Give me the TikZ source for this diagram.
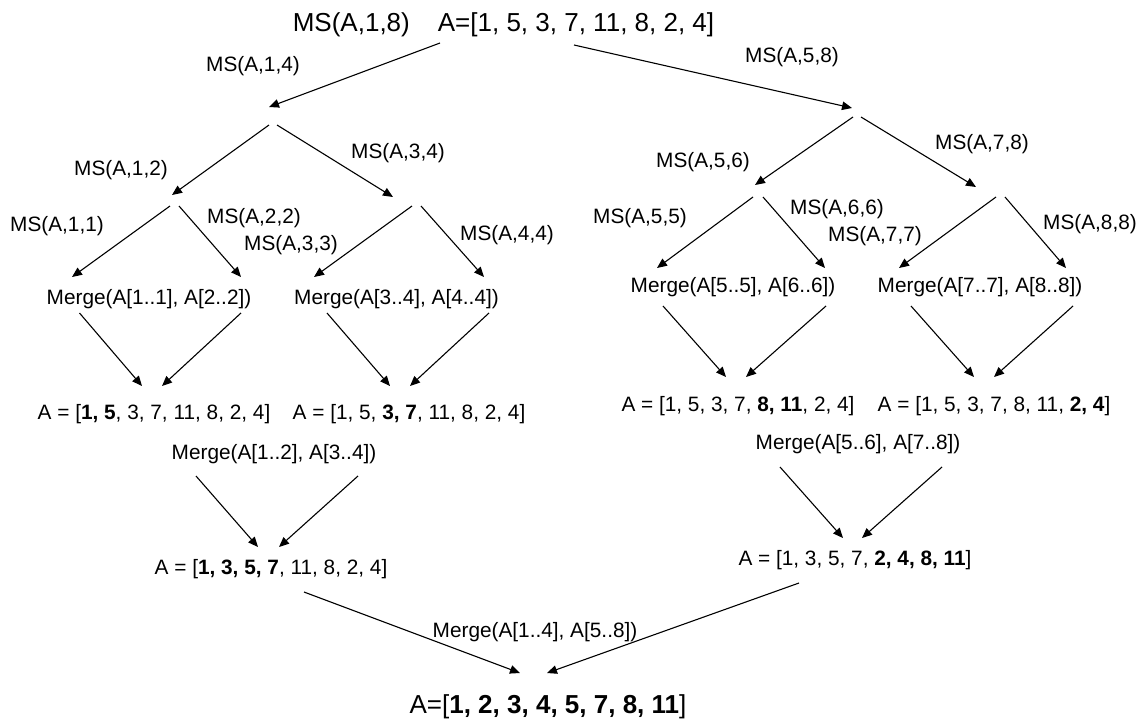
\documentclass[tikz,border=0pt]{standalone}
\usepackage{fontspec}
\setmainfont{Liberation Sans}
\usetikzlibrary{arrows.meta}
\tikzset{
  lbl/.style={font=\fontsize{20.8}{24}\selectfont, inner sep=0pt, anchor=base},
  big/.style={font=\fontsize{26}{30}\selectfont, inner sep=0pt, anchor=base},
  arr/.style={-{Triangle[length=10pt,width=8.5pt]}, line width=1.1pt},
}
\begin{document}
\begin{tikzpicture}[x=1pt,y=-1pt]
\useasboundingbox (0,0) rectangle (1143,724);
% ---------- texts ----------
\node[big] (root) at (503.5,31.4) {MS(A,1,8)\hspace{28pt}A=[1, 5, 3, 7, 11, 8, 2, 4]};
\node[lbl] (l14) at (253,71.5) {MS(A,1,4)};
\node[lbl] (l58) at (792,62.5) {MS(A,5,8)};
\node[lbl] (l12) at (121,175.5) {MS(A,1,2)};
\node[lbl] (l34) at (398,158.5) {MS(A,3,4)};
\node[lbl] (l11) at (57,231.5) {MS(A,1,1)};
\node[lbl] (l22) at (254,223.5) {MS(A,2,2)};
\node[lbl] (l33) at (291,250.5) {MS(A,3,3)};
\node[lbl] (l44) at (507,240.5) {MS(A,4,4)};
\node[lbl] (l56) at (703,167.5) {MS(A,5,6)};
\node[lbl] (l78) at (982,149.5) {MS(A,7,8)};
\node[lbl] (l55) at (640,223.5) {MS(A,5,5)};
\node[lbl] (l66) at (837,214.5) {MS(A,6,6)};
\node[lbl] (l77) at (875,241.5) {MS(A,7,7)};
\node[lbl] (l88) at (1090,229.5) {MS(A,8,8)};
\node[lbl] (m12a) at (149,304.5) {Merge(A[1..1], A[2..2])};
\node[lbl] (m34a) at (396.5,304.5) {Merge(A[3..4], A[4..4])};
\node[lbl] (m56a) at (733,292.5) {Merge(A[5..5], A[6..6])};
\node[lbl] (m78a) at (980,292.5) {Merge(A[7..7], A[8..8])};
\node[lbl] (r12) at (154,419.5) {A = [\textbf{1, 5}, 3, 7, 11, 8, 2, 4]};
\node[lbl] (r34) at (409,419.5) {A = [1, 5, \textbf{3, 7}, 11, 8, 2, 4]};
\node[lbl] (r56) at (738,411.5) {A = [1, 5, 3, 7, \textbf{8, 11}, 2, 4]};
\node[lbl] (r78) at (994,411.5) {A = [1, 5, 3, 7, 8, 11, \textbf{2, 4}]};
\node[lbl] (m14) at (274,459.5) {Merge(A[1..2], A[3..4])};
\node[lbl] (m58) at (858,449.5) {Merge(A[5..6], A[7..8])};
\node[lbl] (r14) at (271,574.5) {A = [\textbf{1, 3, 5, 7}, 11, 8, 2, 4]};
\node[lbl] (r58) at (855,565.5) {A = [1, 3, 5, 7, \textbf{2, 4, 8, 11}]};
\node[lbl] (m18) at (535,637.5) {Merge(A[1..4], A[5..8])};
\node[big] (final) at (548,713.4) {A=[\textbf{1, 2, 3, 4, 5, 7, 8, 11}]};
% ---------- connector end points ----------
\coordinate (rootL) at (440,43);   \coordinate (rootR) at (574,45);
\coordinate (p14i) at (269,107);   \coordinate (p14l) at (269,125); \coordinate (p14r) at (277,125);
\coordinate (p58i) at (852,108);   \coordinate (p58l) at (853,117); \coordinate (p58r) at (861,117);
\coordinate (p12i) at (172,195);   \coordinate (p12l) at (170,206); \coordinate (p12r) at (179,206);
\coordinate (p34i) at (393,197);   \coordinate (p34l) at (412,206); \coordinate (p34r) at (421,206);
\coordinate (p56i) at (755,185);   \coordinate (p56l) at (753,197); \coordinate (p56r) at (763,197);
\coordinate (p78i) at (976,187);   \coordinate (p78l) at (996,197); \coordinate (p78r) at (1005,197);
\coordinate (p11i) at (72,277);    \coordinate (p22i) at (241,277);
\coordinate (p33i) at (314,277);   \coordinate (p44i) at (484,277);
\coordinate (p55i) at (657,268);   \coordinate (p66i) at (825,268);
\coordinate (p77i) at (899,268);   \coordinate (p88i) at (1066,268);
\coordinate (m12aL) at (79.5,313); \coordinate (m12aR) at (241,313);
\coordinate (m34aL) at (327,313);  \coordinate (m34aR) at (489,313);
\coordinate (m56aL) at (663,306);  \coordinate (m56aR) at (826,306);
\coordinate (m78aL) at (911,306);  \coordinate (m78aR) at (1073,306);
\coordinate (r12L) at (142,386);   \coordinate (r12R) at (162,386);
\coordinate (r34L) at (390,386);   \coordinate (r34R) at (410,386);
\coordinate (r56L) at (726,377);   \coordinate (r56R) at (746,377);
\coordinate (r78L) at (974,377);   \coordinate (r78R) at (994,377);
\coordinate (m14L) at (196,476);   \coordinate (m14R) at (358,476);
\coordinate (m58L) at (780,467);   \coordinate (m58R) at (942,467);
\coordinate (r14L) at (258,547);   \coordinate (r14R) at (279,547);
\coordinate (r58L) at (843,538);   \coordinate (r58R) at (862,538);
\coordinate (r14o) at (304,592);   \coordinate (r58o) at (799,583);
\coordinate (finL) at (520,673);   \coordinate (finR) at (547,673);
% ---------- connectors ----------
\draw[arr] (rootL) -- (p14i);
\draw[arr] (rootR) -- (p58i);
\draw[arr] (p14l) -- (p12i);
\draw[arr] (p14r) -- (p34i);
\draw[arr] (p58l) -- (p56i);
\draw[arr] (p58r) -- (p78i);
\draw[arr] (p12l) -- (p11i);
\draw[arr] (p12r) -- (p22i);
\draw[arr] (p34l) -- (p33i);
\draw[arr] (p34r) -- (p44i);
\draw[arr] (p56l) -- (p55i);
\draw[arr] (p56r) -- (p66i);
\draw[arr] (p78l) -- (p77i);
\draw[arr] (p78r) -- (p88i);
\draw[arr] (m12aL) -- (r12L);
\draw[arr] (m12aR) -- (r12R);
\draw[arr] (m34aL) -- (r34L);
\draw[arr] (m34aR) -- (r34R);
\draw[arr] (m56aL) -- (r56L);
\draw[arr] (m56aR) -- (r56R);
\draw[arr] (m78aL) -- (r78L);
\draw[arr] (m78aR) -- (r78R);
\draw[arr] (m14L) -- (r14L);
\draw[arr] (m14R) -- (r14R);
\draw[arr] (m58L) -- (r58L);
\draw[arr] (m58R) -- (r58R);
\draw[arr] (r14o) -- (finL);
\draw[arr] (r58o) -- (finR);
\end{tikzpicture}
\end{document}
